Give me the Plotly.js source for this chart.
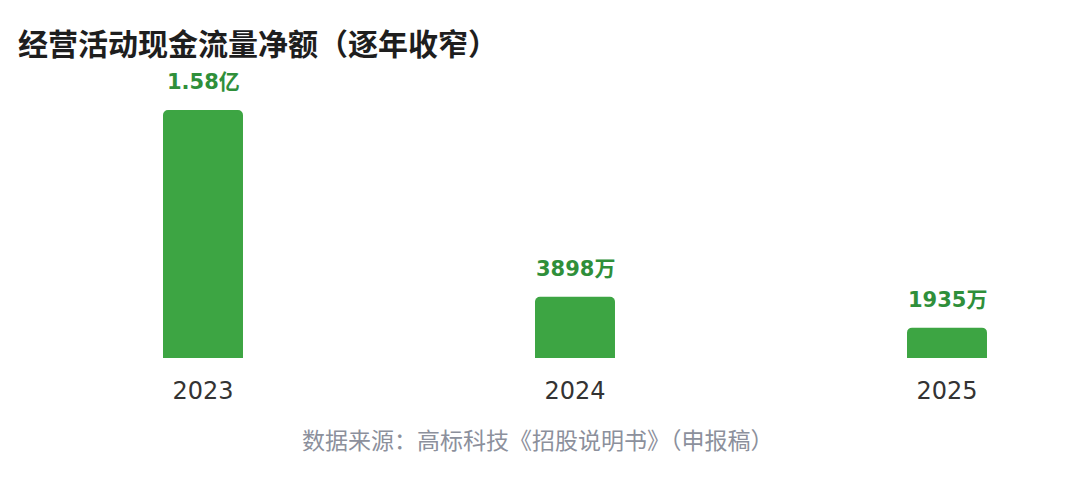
<!DOCTYPE html>
<html><head><meta charset="utf-8">
<script src="https://cdn.plot.ly/plotly-3.0.1.min.js"></script>
<style>html,body{margin:0;padding:0;background:#fff}#chart{width:1080px;height:482px}</style>
</head><body><div id="chart"></div>
<script>
const years = ['2023', '2024', '2025'];
const values = [15800, 3898, 1935]; // 万元
const valueLabels = ['1.58亿', '3898万', '1935万'];
const titleText = '经营活动现金流量净额（逐年收窄）';
const sourceText = '数据来源：高标科技《招股说明书》（申报稿）';

const font = '"Noto Sans CJK SC", "Noto Sans", sans-serif';
const numFont = '"DejaVu Sans", "Noto Sans CJK SC", sans-serif';
const green = '#3da543';
const labelGreen = '#2f8f3a';

const trace = {
  type: 'bar',
  x: years.map((_, i) => i),
  y: values,
  width: 0.215,
  marker: {color: green, cornerradius: 5},
  hoverinfo: 'none'
};

const annotations = years.map((y, i) => ({
  x: i, y: values[i], xref: 'x', yref: 'y',
  text: valueLabels[i], showarrow: false,
  yanchor: 'bottom', yshift: 14,
  font: {family: numFont, size: 21, color: labelGreen, weight: 'bold'}
}));
annotations.push({
  xref: 'paper', yref: 'paper', x: 538/1080, y: -(439-358)/ (358-60),
  text: sourceText, showarrow: false, xanchor: 'center', yanchor: 'middle',
  font: {family: font, size: 23, color: '#8c909c'}
});

const layout = {
  width: 1080, height: 482,
  margin: {l: 0, r: 0, t: 60, b: 124},
  paper_bgcolor: '#ffffff', plot_bgcolor: '#ffffff',
  showlegend: false,
  title: {
    text: '<b>' + titleText + '</b>',
    x: 18/1080, xanchor: 'left', xref: 'paper',
    y: 1 - 44/482, yref: 'container', yanchor: 'middle',
    font: {family: font, size: 30, color: '#1e1e1e'}
  },
  xaxis: {
    range: [-203/372, 2 + (1080-947)/372],
    tickmode: 'array', tickvals: years.map((_, i) => i), ticktext: years,
    showgrid: false, zeroline: false, showline: false, ticks: '',
    ticklabelstandoff: 16,
    tickfont: {family: numFont, size: 24, color: '#333333'},
    fixedrange: true
  },
  yaxis: {
    range: [0, 15800 * (358-60) / 248],
    visible: false, showgrid: false, zeroline: false, fixedrange: true
  },
  annotations: annotations
};

Plotly.newPlot('chart', [trace], layout, {displayModeBar: false, staticPlot: true});
</script></body></html>
